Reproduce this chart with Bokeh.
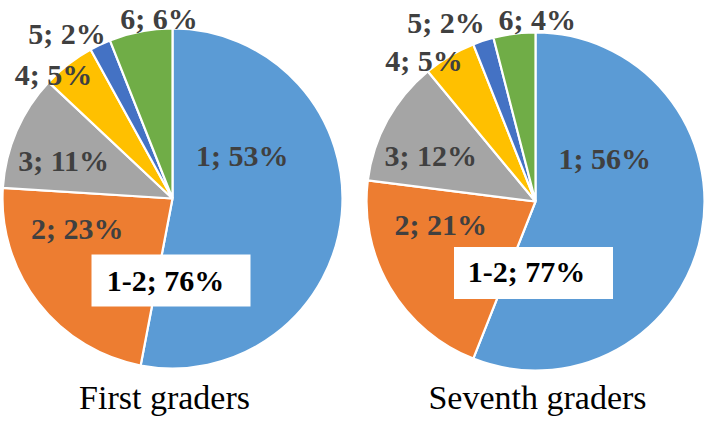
import math
from bokeh.plotting import figure
from bokeh.models import Range1d, ColumnDataSource
from bokeh.core.properties import value
from bokeh.embed import file_html
from bokeh.resources import INLINE

# ---- data ----
categories = ["1", "2", "3", "4", "5", "6"]
first_graders = [53, 23, 11, 5, 2, 6]
seventh_graders = [56, 21, 12, 5, 2, 4]
group_titles = ["First graders", "Seventh graders"]
combined_label = "1-2"

# ---- styling / layout ----
colors = ["#5B9BD5", "#ED7D31", "#A5A5A5", "#FFC000", "#4472C4", "#70AD47"]
W, H = 709, 422
# pie centres and radii in page pixels (y measured upward from the bottom of the window)
centers = [(172, 224), (535, 221)]
radii = [170, 169]
# label offsets as fractions of the radius
label_offsets = [
    [(0.41, 0.24), (-0.56, -0.19), (-0.64, 0.21), (-0.70, 0.72), (-0.62, 0.96), (-0.08, 1.05)],
    [(0.41, 0.24), (-0.56, -0.15), (-0.62, 0.26), (-0.66, 0.82), (-0.53, 1.05), (0.01, 1.065)],
]
label_dy = 2
# combined label: text offset from pie centre (px) and box offset from text / size (px)
combo_text_off = [(-7, -84), (-9, -72)]
combo_box_off = [(5.5, 2), (7, 0.5)]
combo_box_size = (159, 52)
title_x = [164, 537]
title_y = 25

p = figure(width=W, height=H, output_backend="svg", toolbar_location=None,
           x_range=Range1d(0, W), y_range=Range1d(0, H),
           min_border=0, outline_line_color=None)
p.axis.visible = False
p.grid.visible = False
p.background_fill_color = "white"
p.border_fill_color = "white"

for i, vals in enumerate([first_graders, seventh_graders]):
    cx, cy = centers[i]
    R = radii[i]
    total = float(sum(vals))
    cum = 0.0
    starts, ends = [], []
    for v in vals:
        a0 = cum / total
        cum += v
        a1 = cum / total
        # clockwise from 12 o'clock
        starts.append(math.pi / 2 - 2 * math.pi * a1)
        ends.append(math.pi / 2 - 2 * math.pi * a0)
    src = ColumnDataSource(dict(x=[cx] * len(vals), y=[cy] * len(vals),
                                start=starts, end=ends, color=colors))
    p.wedge(x="x", y="y", radius=R, start_angle="start", end_angle="end",
            fill_color="color", line_color="white", line_width=2.2, source=src)

    lx = [cx + fx * R for fx, fy in label_offsets[i]]
    ly = [cy + fy * R + label_dy for fx, fy in label_offsets[i]]
    labels = [f"{c}; {v}%" for c, v in zip(categories, vals)]
    p.text(x=lx, y=ly, text=labels, text_align="center", text_baseline="middle",
           text_font=value("Liberation Serif"), text_font_style="bold",
           text_font_size="30px", text_color="#404040")

    combo = vals[0] + vals[1]
    tx = cx + combo_text_off[i][0]
    ty = cy + combo_text_off[i][1]
    p.rect(x=[tx + combo_box_off[i][0]], y=[ty + combo_box_off[i][1]],
           width=combo_box_size[0], height=combo_box_size[1],
           fill_color="white", line_color=None)
    p.text(x=[tx], y=[ty + label_dy], text=[f"{combined_label}; {combo}%"], text_align="center",
           text_baseline="middle", text_font=value("Liberation Serif"),
           text_font_style="bold", text_font_size="30px", text_color="black")

    p.text(x=[title_x[i]], y=[title_y], text=[group_titles[i]], text_align="center",
           text_baseline="alphabetic", text_font=value("Liberation Serif"),
           text_font_size="34px", text_color="black")

open("out.html", "w").write(file_html(p, INLINE))
